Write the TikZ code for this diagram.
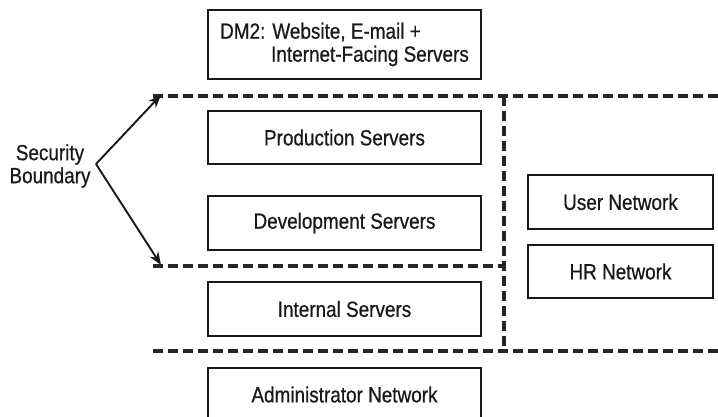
\documentclass[tikz,border=0pt]{standalone}
\usepackage{fontspec}
\setmainfont{Liberation Sans}[FakeStretch=0.86,FakeBold=0.6]
\usetikzlibrary{arrows.meta}
\tikzset{
  box/.style={draw=black!90, line width=1.6pt, rectangle, inner sep=0pt, minimum width=273pt, font=\fontsize{22}{23}\selectfont, text=black!90},
  netbox/.style={box, minimum width=185pt, minimum height=54pt},
  boundary/.style={draw=black!85, line width=3.2pt, dash pattern=on 10pt off 5pt},
  pointer/.style={draw=black!90, line width=1.9pt, -{Stealth[length=13pt,width=10pt]}},
  lbl/.style={font=\fontsize{22}{23}\selectfont, align=center, inner sep=0pt, text=black!90}
}
\begin{document}
\begin{tikzpicture}[x=1pt,y=-1pt]
\clip (0,0) rectangle (718,417);
\fill[white] (0,0) rectangle (718,417);
% boxes
\node[box, minimum height=69pt, align=left] (dm2) at (344.5,44.5) {DM2: Website, E-mail +\\\hspace*{51pt}Internet-Facing Servers};
\node[box, minimum height=53pt] (prod) at (344.5,137.5) {Production Servers};
\node[box, minimum height=54pt] (dev) at (344.5,223) {Development Servers};
\node[box, minimum height=54pt] (int) at (344.5,309) {Internal Servers};
\node[box, minimum height=53pt] (adm) at (344.5,394.5) {Administrator Network};
\node[netbox] (user) at (620.5,202) {User Network};
\node[netbox, minimum height=53pt] (hr) at (620.5,271.5) {HR Network};
% boundaries
\coordinate (tl) at (153,96);
\coordinate (tr) at (718,96);
\coordinate (tj) at (504,96);
\coordinate (ml) at (153,266);
\coordinate (mj) at (504,266);
\coordinate (bl) at (153,351);
\coordinate (bj) at (504,351);
\coordinate (br) at (718,351);
\draw[boundary] (tl) -- (tr);
\draw[boundary] (ml) -- (mj);
\draw[boundary] (tj) -- (bj);
\draw[boundary] (bl) -- (br);
% label and arrows
\node[lbl] (sb) at (50,166) {Security\\Boundary};
\coordinate (apex) at (96,164);
\coordinate (up) at (161,95);
\coordinate (down) at (161,265);
\draw[pointer] (apex) -- (up);
\draw[pointer] (apex) -- (down);
\end{tikzpicture}
\end{document}
